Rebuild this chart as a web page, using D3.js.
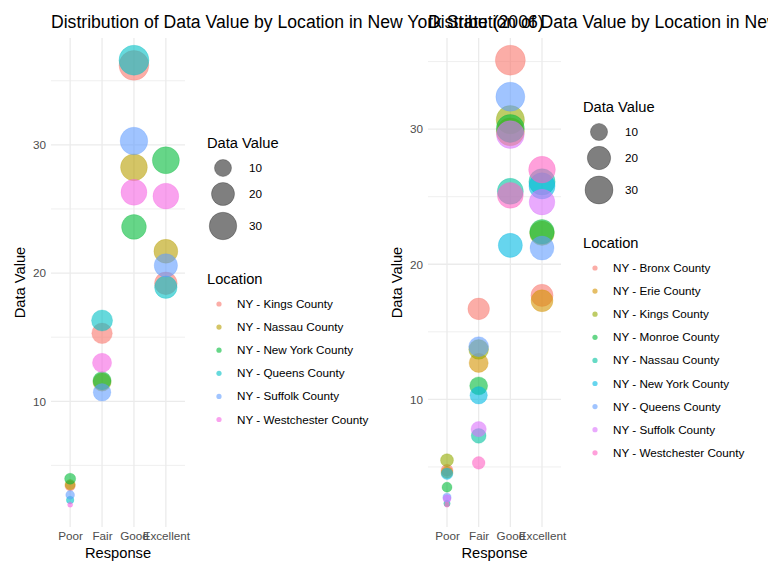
<!DOCTYPE html>
<html>
<head>
<meta charset="utf-8">
<script src="https://cdn.jsdelivr.net/npm/d3@7"></script>
<style>
  html, body { margin: 0; padding: 0; background: #fff; }
  svg { display: block; font-family: "Liberation Sans", Arial, Helvetica, sans-serif; }
</style>
</head>
<body>
<svg id="chart" width="768" height="576"></svg>
<script>
// ---------- data ----------
const responses = ["Poor", "Fair", "Good", "Excellent"];
const sizeBreaks = [10, 20, 30];

// Panel 1 (2006)
const locations2006 = ["NY - Kings County", "NY - Nassau County", "NY - New York County",
  "NY - Queens County", "NY - Suffolk County", "NY - Westchester County"];
const colors2006 = ["#F8766D", "#B79F00", "#00BA38", "#00BFC4", "#619CFF", "#F564E3"];
// values per location, in order Poor, Fair, Good, Excellent
const values2006 = [
  [3.4, 15.3, 36.2, 19.2],   // Kings
  [3.5, 11.5, 28.25, 21.7],  // Nassau
  [3.96, 11.6, 23.6, 28.8],  // New York
  [2.3, 16.3, 36.6, 18.9],   // Queens
  [2.7, 10.7, 30.3, 20.6],   // Suffolk
  [1.93, 13.0, 26.3, 26.0]   // Westchester
];

// Panel 2 (2010)
const locations2010 = ["NY - Bronx County", "NY - Erie County", "NY - Kings County",
  "NY - Monroe County", "NY - Nassau County", "NY - New York County",
  "NY - Queens County", "NY - Suffolk County", "NY - Westchester County"];
const colors2010 = ["#F8766D", "#D39200", "#93AA00", "#00BA38", "#00C19F",
  "#00B9E3", "#619CFF", "#DB72FB", "#FF61C3"];
const values2010 = [
  [4.75, 16.7, 35.1, 17.7],  // Bronx
  [4.6, 12.7, 29.8, 17.3],   // Erie
  [5.5, 13.7, 30.7, 22.3],   // Kings
  [3.5, 11.0, 30.05, 22.4],  // Monroe
  [2.3, 7.3, 25.4, 26.1],    // Nassau
  [4.5, 10.3, 21.4, 25.8],   // New York
  [2.75, 13.9, 32.4, 21.2],  // Queens
  [2.65, 7.8, 29.6, 24.6],   // Suffolk
  [2.2, 5.3, 25.1, 27.0]     // Westchester
];

const titles = [
  "Distribution of Data Value by Location in New York State (2006)",
  "Distribution of Data Value by Location in New York State (2010)"
];

// ---------- drawing ----------
const svg = d3.select("#chart");
const ALPHA = 0.6;

function panel(cfg) {
  const { left, right, top, bottom, locations, colors, values, title,
          legendX, legendTop } = cfg;
  const g = svg.append("g");
  const rows = [];
  locations.forEach((loc, i) => responses.forEach((r, j) =>
    rows.push({ loc, color: colors[i], resp: r, v: values[i][j] })));

  const ext = d3.extent(rows, d => d.v);
  const pad = (ext[1] - ext[0]) * 0.05;
  const y = d3.scaleLinear().domain([ext[0] - pad, ext[1] + pad]).range([bottom, top]);
  const x = d3.scalePoint().domain(responses).range([left, right]).padding(0.6);
  const rScale = v => 2.5 + 12.5 * Math.sqrt(Math.max(0, (v - ext[0]) / (ext[1] - ext[0])));

  // grid
  const majors = y.ticks(4).filter(t => t % 10 === 0);
  const minors = d3.range(5, 40, 10).filter(t => t > y.domain()[0] && t < y.domain()[1]);
  g.selectAll(".minor").data(minors).join("line")
    .attr("x1", left).attr("x2", right)
    .attr("y1", d => y(d)).attr("y2", d => y(d))
    .attr("stroke", "#EBEBEB").attr("stroke-width", 0.8);
  g.selectAll(".major").data(majors).join("line")
    .attr("x1", left).attr("x2", right)
    .attr("y1", d => y(d)).attr("y2", d => y(d))
    .attr("stroke", "#EBEBEB").attr("stroke-width", 1.3);
  g.selectAll(".vmajor").data(responses).join("line")
    .attr("x1", d => x(d)).attr("x2", d => x(d))
    .attr("y1", top).attr("y2", bottom)
    .attr("stroke", "#EBEBEB").attr("stroke-width", 1.3);

  // axes (tick labels only)
  const yAxis = d3.axisLeft(y).tickValues(majors).tickSize(0).tickPadding(5);
  const ya = g.append("g").attr("transform", `translate(${left},0)`).call(yAxis);
  ya.select(".domain").remove();
  ya.selectAll("text").attr("fill", "#4D4D4D").style("font-size", "11.7px")
    .style("font-family", "'Liberation Sans', Arial, sans-serif");

  const xAxis = d3.axisBottom(x).tickSize(0).tickPadding(5);
  const xa = g.append("g").attr("transform", `translate(0,${bottom})`).call(xAxis);
  xa.select(".domain").remove();
  xa.selectAll("text").attr("fill", "#4D4D4D").style("font-size", "11.7px")
    .style("font-family", "'Liberation Sans', Arial, sans-serif");

  // points
  g.selectAll(".pt").data(rows).join("circle")
    .attr("cx", d => x(d.resp)).attr("cy", d => y(d.v)).attr("r", d => rScale(d.v))
    .attr("fill", d => d.color).attr("fill-opacity", ALPHA)
    .attr("stroke", d => d.color).attr("stroke-opacity", ALPHA * 0.5).attr("stroke-width", 0.8);

  // axis titles
  g.append("text").attr("x", (left + right) / 2).attr("y", bottom + 31)
    .attr("text-anchor", "middle").style("font-size", "14.7px").text("Response");
  g.append("text")
    .attr("transform", `translate(${left - 26},${(top + bottom) / 2}) rotate(-90)`)
    .attr("text-anchor", "middle").style("font-size", "14.7px").text("Data Value");

  // title
  g.append("text").attr("x", left).attr("y", 28).style("font-size", "17.6px").text(title);

  // size legend
  const lg = g.append("g");
  lg.append("text").attr("x", legendX).attr("y", legendTop).style("font-size", "14.7px").text("Data Value");
  const sizeY = [legendTop + 20, legendTop + 46, legendTop + 78];
  sizeBreaks.forEach((b, i) => {
    lg.append("circle").attr("cx", legendX + 16).attr("cy", sizeY[i]).attr("r", rScale(b))
      .attr("fill", "#000").attr("fill-opacity", 0.5)
      .attr("stroke", "#000").attr("stroke-opacity", 0.3).attr("stroke-width", 0.8);
    lg.append("text").attr("x", legendX + 42).attr("y", sizeY[i]).attr("dy", "0.35em")
      .style("font-size", "11.7px").text(b);
  });
  // colour legend
  const locTop = legendTop + 136;
  lg.append("text").attr("x", legendX).attr("y", locTop).style("font-size", "14.7px").text("Location");
  locations.forEach((loc, i) => {
    const yy = locTop + 20 + i * 23.1;
    lg.append("circle").attr("cx", legendX + 12).attr("cy", yy).attr("r", 2.6)
      .attr("fill", colors[i]).attr("fill-opacity", ALPHA);
    lg.append("text").attr("x", legendX + 30).attr("y", yy).attr("dy", "0.35em")
      .style("font-size", "11.7px").text(loc);
  });
}

panel({ left: 51, right: 185, top: 38, bottom: 527,
  locations: locations2006, colors: colors2006, values: values2006,
  title: titles[0], legendX: 207, legendTop: 148 });

panel({ left: 428, right: 561, top: 38, bottom: 527,
  locations: locations2010, colors: colors2010, values: values2010,
  title: titles[1], legendX: 583, legendTop: 112 });
</script>
</body>
</html>
